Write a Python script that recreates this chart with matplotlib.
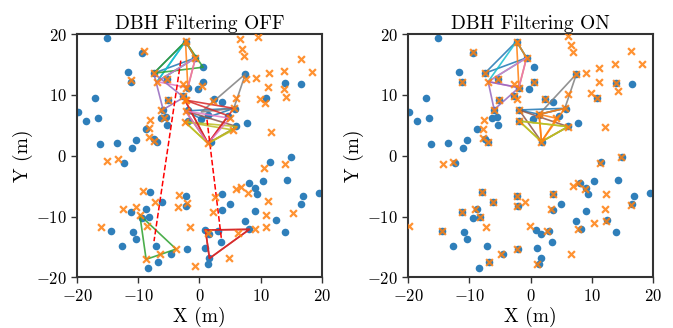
import matplotlib
matplotlib.use("Agg")
import matplotlib.pyplot as plt
import numpy as np

plt.rcParams['font.family'] = 'serif'
plt.rcParams['font.serif'] = ['cmr10', 'DejaVu Serif']
plt.rcParams['mathtext.fontset'] = 'cm'
plt.rcParams['axes.formatter.use_mathtext'] = True
plt.rcParams['axes.unicode_minus'] = True

# ---------------- data ----------------
# reference tree positions (same in both panels)
tree_x = [-15.06, -9.36, -11.65, -11.26, -2.28, -0.65, -7.46, -5.38, -1.9, -0.28, -5.12, -2.68,
          -5.94, -17.08, -19.8, -18.5, -16.54, -6.26, -5.45, -5.38, -8.8, -10.44, -7.46, -6.92,
          -16.26, -13.54, -11.0, -1.86, -1.86, 0.59, 0.59, 7.5, 13.92, 16.57, 10.87, 2.33, 3.69,
          5.76, 4.67, 0.33, 1.4, 6.04, 7.83, 1.9, 15.0, 11.47, -12.35, -8.0, -6.1, -8.7, -11.2,
          -8.27, -9.36, -2.28, -2.12, -14.52, -10.83, -10.44, -12.63, -7.18, -4.57, -2.02, -6.75,
          -8.38, 8.04, 9.13, 10.33, 14.36, 9.4, 3.69, 4.94, 3.69, 9.13, 16.9, 19.46, 16.64, 7.5,
          8.16, 12.56, 14.03, 0.86, 3.03, 1.63, 3.47, 0.98, 1.63, 1.35]
tree_y = [19.3, 16.96, 13.7, 12.1, 18.77, 16.1, 13.57, 12.6, 11.2, 11.0, 9.18, 9.9,
          7.53, 9.56, 7.15, 5.78, 6.16, 6.27, 6.33, 5.07, 4.4, 2.6, 2.7, 2.32,
          1.94, 2.05, 1.33, 7.53, 5.72, 14.56, 12.09, 13.45, 12.0, 11.8, 9.56, 9.29, 8.8,
          7.7, 6.55, 6.0, 6.7, 4.9, 5.34, 2.32, -0.25, -1.07, -1.13, -6.0, -7.65, -8.75, -9.24,
          -10.0, -10.17, -6.56, -8.2, -12.37, -12.6, -13.7, -14.84, -14.84, -16.2, -15.33, -17.4,
          -18.5, -4.42, -5.24, -4.14, -3.98, -6.33, -6.28, -7.98, -8.91, -9.08, -6.6, -6.17, -7.93, -10.67,
          -12.09, -10.56, -12.58, -12.2, -12.37, -12.86, -14.18, -15.21, -16.86, -17.8]

# detections, filtering OFF
off_x = [-9.09, -11.26, -5.38, -7.46, -2.72, -2.28, -0.65, -6.92, -2.12, -2.72, -5.17, -6.36,
         -2.28, -8.1, -5.82, -8.27, -8.27, -7.46, -15.07, -13.33, -2.4, -2.28, -2.4, 1.4, 5.6,
         5.48, 4.94, 6.57, 9.56, 6.95, 7.23, 16.64, 18.37, 13.87, 11.3, 9.23, 7.6, 11.14, 13.87,
         14.19, 9.84, 10.65, 6.04, 2.17, 0.42, 11.68, -9.2, -3.38, -7.34, -2.02, -12.46, -10.34,
         -9.74, -3.54, -8.65, -16.15, -1.47, -8.71, -3.82, -6.48, -0.77, 14.03, 10.49, 6.04, 6.79,
         7.88, 11.14, 2.5, 2.17, 15.22, 10.87, 10.87, 9.02, 6.3, 1.4, 4.89]
off_y = [17.29, 12.47, 12.63, 13.57, 11.76, 18.88, 16.04, 12.19, 11.2, 9.77, 9.1, 7.6,
         9.21, 5.95, 6.28, 4.49, 3.02, 2.46, -0.78, -0.5, 9.18, 7.37, 5.6, 2.04, 7.8,
         4.24, 6.17, 19.16, 19.59, 17.57, 16.41, 15.92, 13.73, 14.0, 13.57, 12.75, 12.58, 11.27, 10.94,
         9.62, 9.34, 8.63, 9.46, 9.01, 11.48, 3.87, -5.79, -6.45, -7.65, -7.71, -8.75, -8.47,
         -9.74, -8.37, -11.55, -11.76, -11.76, -17.02, -15.33, -16.15, -18.13, -1.35, -2.06, -5.51, -5.18,
         -6.17, -7.38, -6.83, -9.29, -9.36, -9.74, -11.66, -12.04, -12.75, -12.75, -16.86]

# detections, filtering ON
on_x = [-9.36, -11.26, -2.28, -0.65, -7.5, -5.38, -6.92, -2.68, -1.9, -5.12, -2.68, -2.18,
        -5.94, -1.86, -1.86, -7.62, -7.83, -7.73, -6.92, 6.13, 6.67, 6.95, 9.13, 7.5, 11.14,
        13.75, 16.36, 18.27, 11.14, 13.92, 14.29, 9.95, 10.87, 0.59, 6.13, 2.33, 5.6, 4.24, 1.4,
        6.13, 12.12, 1.79, 14.8, -14.25, -12.6, -8.0, -6.1, -9.09, -11.2, -8.27, -2.28, -0.87,
        -2.28, -7.29, -0.11, -19.8, -14.52, -2.28, -4.85, -6.75, 11.3, 6.95, 7.77, 8.97, 12.28,
        3.69, 3.42, 12.12, 16.48, 2.77, 7.77, 10.38, 12.28, 6.53, 0.98]
on_y = [17.0, 12.09, 18.77, 16.1, 13.57, 12.7, 12.19, 11.76, 11.2, 9.18, 9.9, 9.29,
        7.6, 7.53, 5.72, 5.89, 4.36, 2.87, 2.32, 19.75, 18.2, 17.0, 13.57, 13.45, 14.49,
        15.05, 17.24, 15.05, 12.19, 12.0, 10.71, 10.28, 9.56, 12.09, 10.11, 9.29, 7.8, 6.17, 6.82,
        4.79, 4.79, 2.32, -0.15, -1.35, -1.07, -6.0, -7.65, -8.75, -9.24, -10.0, -6.56, -7.65,
        -8.2, -11.76, -11.5, -11.5, -12.37, -15.33, -16.2, -17.4, -1.13, -4.92, -4.52, -5.46, -6.33,
        -6.28, -8.8, -8.8, -8.09, -12.37, -12.04, -11.1, -10.7, -16.2, -17.85]

# triangles (vertex coordinates) and colours
off_tri_x = [[-7.46, -2.28, -0.65], [-2.28, -6.92, -0.65], [-2.28, -6.92, -0.65],
             [-7.46, -2.28, 0.59], [-2.28, -1.9, -0.65], [-0.65, -1.9, -6.92],
             [-7.46, -5.94, -2.56],
             [-2.28, 5.6, 0.42], [7.5, 0.3, 5.6], [-2.28, 6.13, 1.4], [-2.4, 6.13, 1.4],
             [-2.4, 5.48, 1.4], [-2.4, 4.67, 1.4], [-2.4, 5.6, 1.4], [-2.28, 4.94, 1.4],
             [-9.74, -8.71, -3.82], [0.98, 8.16, 1.63], [0.98, 8.16, 1.63]]
off_tri_y = [[13.57, 18.8, 16.1], [18.8, 12.19, 16.1], [18.8, 12.19, 16.1],
             [13.57, 18.8, 14.56], [18.8, 11.2, 16.1], [16.1, 11.2, 12.19],
             [13.57, 7.6, 9.6],
             [7.37, 7.8, 6.0], [13.45, 7.2, 7.8], [7.37, 4.79, 2.04], [5.6, 4.79, 2.04],
             [5.6, 4.24, 2.04], [9.18, 6.6, 2.04], [9.18, 7.8, 2.04], [7.37, 6.17, 2.04],
             [-9.74, -17.02, -15.33], [-12.2, -12.09, -16.86], [-12.2, -12.09, -16.86]]
off_tri_color = ['tab:blue', 'tab:cyan', 'tab:cyan', 'tab:green', 'tab:orange', 'tab:pink',
                 'tab:purple', 'tab:blue', 'tab:gray', 'tab:brown', 'tab:olive', 'tab:olive',
                 'tab:red', 'tab:red', 'tab:pink', 'tab:green', 'tab:red', 'tab:red']

on_tri_x = [[-7.46, -2.28, -0.65], [-2.28, -6.92, -0.65], [-2.28, -1.9, -0.65],
            [-0.65, -1.9, -6.92], [-6.92, -5.94, -1.9],
            [-1.86, 5.6, 1.4], [7.5, 1.4, 5.6], [-1.86, 6.13, 1.79],
            [1.4, 5.6, 1.79], [1.4, 4.24, 1.79], [-1.86, 6.13, 1.79], [-1.86, 6.13, 1.79]]
on_tri_y = [[13.57, 18.8, 16.1], [18.8, 12.19, 16.1], [18.8, 11.2, 16.1],
            [16.1, 11.2, 12.19], [12.19, 7.6, 11.2],
            [7.53, 7.8, 6.82], [13.45, 6.82, 7.8], [7.53, 4.79, 2.32],
            [6.82, 7.8, 2.32], [6.82, 6.17, 2.32], [5.72, 4.79, 2.32], [5.72, 4.79, 2.32]]
on_tri_color = ['tab:blue', 'tab:cyan', 'tab:orange', 'tab:pink', 'tab:purple',
                'tab:blue', 'tab:gray', 'tab:brown', 'tab:orange', 'tab:orange',
                'tab:olive', 'tab:olive']

# matched triangle pairs in OFF panel (indices into off triangles) -> dashed links
off_links = [(3, 15), (12, 16)]

ticks = [-20, -10, 0, 10, 20]

# ---------------- plot ----------------
fig = plt.figure(figsize=(6.73, 3.28), dpi=100)
ax1 = fig.add_axes([0.1144, 0.154, 0.364, 0.742])
ax2 = fig.add_axes([0.6063, 0.154, 0.364, 0.742])


def draw(ax, det_x, det_y, tx, ty, tc, links, title):
    ax.scatter(tree_x, tree_y, s=30, color='#2f7fba', zorder=2, linewidths=0)
    for xs, ys, c in zip(tx, ty, tc):
        ax.plot(xs + xs[:1], ys + ys[:1], color=c, lw=1.2, alpha=0.85, zorder=3)
    for i, j in links:
        cx1, cy1 = np.mean(tx[i]), np.mean(ty[i])
        cx2, cy2 = np.mean(tx[j]), np.mean(ty[j])
        ax.plot([cx1, cx2], [cy1, cy2], color='red', ls='--', lw=1.1, zorder=3)
    ax.scatter(det_x, det_y, s=24, marker='x', color='#ff7f0e', linewidths=1.6,
               alpha=0.85, zorder=4)
    ax.set_xlim(-20, 20)
    ax.set_ylim(-20, 20)
    ax.set_xticks(ticks)
    ax.set_yticks(ticks)
    ax.tick_params(labelsize=12, length=4, width=1.0, color='#333333')
    for sp in ax.spines.values():
        sp.set_linewidth(1.5)
        sp.set_color('#333333')
    ax.set_title(title, fontsize=14, pad=4)
    ax.set_xlabel('X (m)', fontsize=14, labelpad=2)
    ax.set_ylabel('Y (m)', fontsize=14, labelpad=2)


draw(ax1, off_x, off_y, off_tri_x, off_tri_y, off_tri_color, off_links, 'DBH Filtering OFF')
draw(ax2, on_x, on_y, on_tri_x, on_tri_y, on_tri_color, [], 'DBH Filtering ON')

fig.savefig('out.png', dpi=100)
